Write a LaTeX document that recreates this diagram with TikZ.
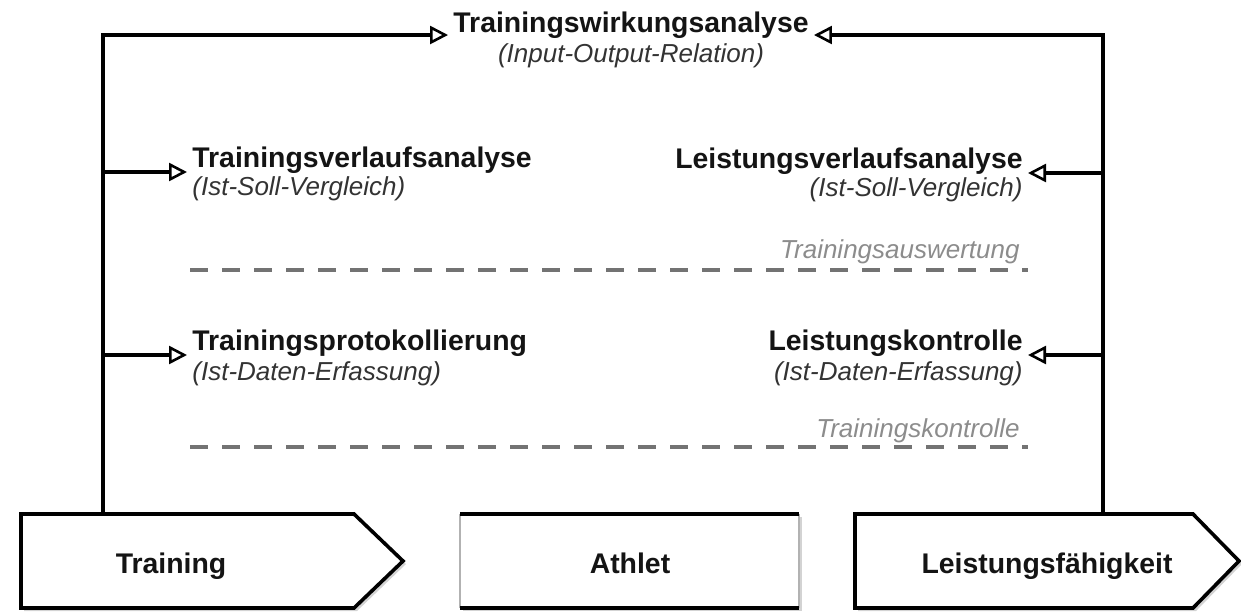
\documentclass[tikz,border=0pt]{standalone}
\usepackage{fontspec}
\setmainfont{Liberation Sans}
\usetikzlibrary{arrows.meta,positioning,shadows}
\tikzstyle{post}=[->,line width=1.7pt,>={Triangle[length=9pt,width=9pt,fill=white,line width=1.3pt]}]
\tikzstyle{head}=[font=\bfseries\fontsize{14.2}{16}\selectfont,text=black!92,inner sep=2.5pt]
\tikzstyle{sub}=[font=\itshape\fontsize{13}{15}\selectfont,text=black!80,inner sep=2.5pt]
\tikzstyle{phase}=[font=\itshape\fontsize{13}{15}\selectfont,text=black!45,inner sep=2.5pt]
\tikzstyle{sep}=[line width=1.8pt,draw=black!55,dash pattern=on 9pt off 7pt]
\tikzstyle{box}=[line width=1.8pt,fill=white,drop shadow={shadow xshift=1.5pt,shadow yshift=-1.5pt,opacity=.35}]

\begin{document}
\begin{tikzpicture}[x=0.5pt,y=-0.5pt]
    \useasboundingbox (0,0) rectangle (1241,612);

    % bottom boxes
    \draw[box] (21,514) -- (354,514) -- (403,561) -- (354,608) -- (21,608) -- cycle;
    \node[head,anchor=base] (training) at (171,573) {Training};
    \fill[white,drop shadow={shadow xshift=1.5pt,shadow yshift=-1.5pt,opacity=.35}] (460,514) rectangle (799,608);
    \draw[black!30,line width=0.8pt] (460,514) -- (460,608) (799,514) -- (799,608);
    \draw[line width=1.8pt] (460,514) -- (799,514) (460,608) -- (799,608);
    \node[head,anchor=base] (athlet) at (630,573) {Athlet};
    \draw[box] (855,514) -- (1193,514) -- (1239,561) -- (1193,608) -- (855,608) -- cycle;
    \node[head,anchor=base] (leistung) at (1047,573) {Leistungsfähigkeit};
    \coordinate (tin) at (103,514);
    \coordinate (lin) at (1103,514);

    % analyses
    \node[head,anchor=base] (wirk) at (631,32) {Trainingswirkungsanalyse};
    \node[sub,anchor=base] (wirksub) at ([yshift=-15pt]wirk.base) {(Input-Output-Relation)};
    \node[head,anchor=base west] (tva) at (187,167) {Trainingsverlaufsanalyse};
    \node[sub,anchor=base west] (tvasub) at ([yshift=-14pt]tva.base west) {(Ist-Soll-Vergleich)};
    \node[head,anchor=base east] (lva) at (1028,168) {Leistungsverlaufsanalyse};
    \node[sub,anchor=base east] (lvasub) at ([yshift=-14pt]lva.base east) {(Ist-Soll-Vergleich)};
    \node[head,anchor=base west] (tpk) at (187,350) {Trainingsprotokollierung};
    \node[sub,anchor=base west] (tpksub) at ([yshift=-15pt]tpk.base west) {(Ist-Daten-Erfassung)};
    \node[head,anchor=base east] (lk) at (1028,350) {Leistungskontrolle};
    \node[sub,anchor=base east] (lksub) at ([yshift=-15pt]lk.base east) {(Ist-Daten-Erfassung)};

    % phases
    \draw[sep] (190,270) -- (1028,270);
    \node[phase,anchor=base east] (ausw) at (1025,258) {Trainingsauswertung};
    \draw[sep] (190,447) -- (1028,447);
    \node[phase,anchor=base east] (kontr) at (1025,437) {Trainingskontrolle};

    % connectors
    \draw[post] (tin) |- ([yshift=-1.5pt]wirk.base west);
    \draw[post] (lin) |- ([yshift=-1.5pt]wirk.base east);
    \foreach \n in {tva,tpk}{
        \coordinate (\n-in) at ([yshift=-2.5pt]\n.base west);
        \draw[post] (\n-in -| tin) -- (\n-in);
    }
    \foreach \n in {lva,lk}{
        \coordinate (\n-in) at ([yshift=-2.5pt]\n.base east);
        \draw[post] (\n-in -| lin) -- (\n-in);
    }
\end{tikzpicture}
\end{document}
